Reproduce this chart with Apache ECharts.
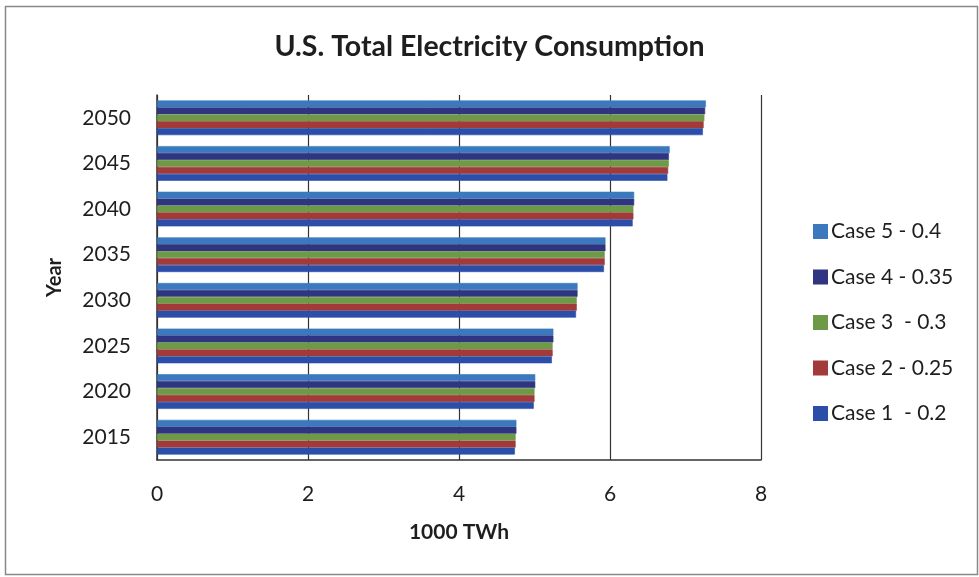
<!DOCTYPE html>
<html><head><meta charset="utf-8">
<script src="https://cdn.jsdelivr.net/npm/echarts@6/dist/echarts.min.js"></script>
<style>html,body{margin:0;padding:0;background:#fff}#c{width:979px;height:577px}</style>
</head><body><div id="c"></div>
<script>
const years = ['2015','2020','2025','2030','2035','2040','2045','2050'];
const case1 = [4.74, 4.99, 5.23, 5.55, 5.92, 6.30, 6.76, 7.23];
const case2 = [4.75, 5.00, 5.24, 5.56, 5.93, 6.31, 6.77, 7.24];
const case3 = [4.75, 5.00, 5.24, 5.56, 5.93, 6.31, 6.78, 7.25];
const case4 = [4.76, 5.01, 5.25, 5.57, 5.94, 6.32, 6.78, 7.26];
const case5 = [4.76, 5.01, 5.25, 5.57, 5.94, 6.32, 6.79, 7.27];
const names = ['Case 1  - 0.2', 'Case 2 - 0.25', 'Case 3  - 0.3', 'Case 4 - 0.35', 'Case 5 - 0.4'];
const colors = ['#2b4ea8', '#a23a3a', '#6e9a48', '#2f3580', '#3b78bd'];
const xTicks = [0, 2, 4, 6, 8];

const FONT = 'Lato, "Open Sans", sans-serif';
const chart = echarts.init(document.getElementById('c'));
const allData = [case1, case2, case3, case4, case5];
// ECharts draws the first series of a horizontal group at the top, so list Case 5 first
const order = [4, 3, 2, 1, 0];
chart.setOption({
  animation: false,
  backgroundColor: '#fff',
  title: {
    text: 'U.S. Total Electricity Consumption',
    left: 'center', top: 27,
    textStyle: { fontFamily: FONT, fontSize: 28.5, fontWeight: 'bold', color: '#1e1e1e' }
  },
  legend: {
    orient: 'vertical', left: 808, top: 216, itemGap: 24.5,
    itemWidth: 13, itemHeight: 13, icon: 'rect',
    data: names.slice().reverse(),
    textStyle: { fontFamily: FONT, fontSize: 21, color: '#1e1e1e', padding: [0, 0, 0, -1] }
  },
  grid: { left: 157, right: 218, top: 95, bottom: 117 },
  xAxis: {
    type: 'value', min: xTicks[0], max: xTicks[xTicks.length - 1], interval: 2,
    name: '1000 TWh', nameLocation: 'middle', nameGap: 62,
    nameTextStyle: { fontFamily: FONT, fontSize: 21, fontWeight: 'bold', color: '#1e1e1e' },
    axisLine: { show: true, lineStyle: { color: '#333', width: 1.5 } },
    axisTick: { show: false },
    axisLabel: { fontFamily: FONT, fontSize: 21, color: '#1e1e1e', margin: 24 },
    splitLine: { show: true, lineStyle: { color: '#333', width: 1.2 } }
  },
  yAxis: {
    type: 'category', data: years,
    name: 'Year', nameLocation: 'middle', nameGap: 92, nameRotate: 90,
    nameTextStyle: { fontFamily: FONT, fontSize: 20, fontWeight: 'bold', color: '#1e1e1e' },
    axisLine: { show: true, lineStyle: { color: '#333', width: 1.5 } },
    axisTick: { show: false },
    axisLabel: { fontFamily: FONT, fontSize: 21, color: '#1e1e1e', margin: 26 },
    splitLine: { show: false }
  },
  graphic: [{
    type: 'rect', left: 3, top: 4,
    shape: { width: 972, height: 568 },
    style: { fill: 'none', stroke: '#888', lineWidth: 1.5 }, silent: true
  }],
  series: order.map(i => ({
    name: names[i], type: 'bar', data: allData[i],
    barCategoryGap: '24%', barGap: '0%',
    itemStyle: { color: colors[i], borderColor: colors[i], borderWidth: 0.6 }
  }))
});
</script></body></html>
